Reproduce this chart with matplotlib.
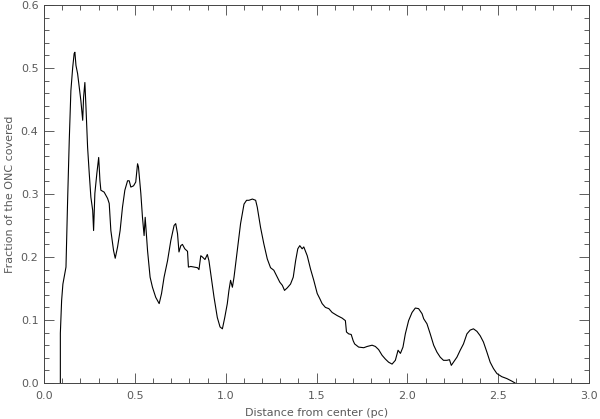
import matplotlib
matplotlib.use("Agg")
import matplotlib.pyplot as plt
from matplotlib.ticker import MultipleLocator, FormatStrFormatter

distance_pc = [
    0.090, 0.090, 0.097, 0.104, 0.115, 0.121, 0.130, 0.139, 0.148, 0.158,
    0.166, 0.170, 0.176, 0.185, 0.194, 0.203, 0.213, 0.218, 0.225, 0.231,
    0.240, 0.249, 0.258, 0.268, 0.273, 0.280, 0.291, 0.301, 0.308, 0.313,
    0.331, 0.350, 0.359, 0.368, 0.383, 0.392, 0.405, 0.419, 0.432, 0.445,
    0.460, 0.469, 0.478, 0.493, 0.505, 0.515, 0.520, 0.533, 0.542, 0.551,
    0.557, 0.566, 0.570, 0.584, 0.597, 0.615, 0.634, 0.647, 0.661, 0.680,
    0.698, 0.716, 0.725, 0.735, 0.743, 0.753, 0.762, 0.775, 0.790, 0.795,
    0.808, 0.826, 0.845, 0.853, 0.863, 0.872, 0.886, 0.899, 0.908, 0.918,
    0.936, 0.954, 0.969, 0.982, 0.995, 1.009, 1.018, 1.027, 1.037, 1.046,
    1.064, 1.082, 1.101, 1.115, 1.128, 1.147, 1.165, 1.174, 1.192, 1.210,
    1.229, 1.247, 1.265, 1.284, 1.298, 1.312, 1.324, 1.339, 1.357, 1.372,
    1.385, 1.397, 1.408, 1.421, 1.430, 1.449, 1.467, 1.485, 1.504, 1.518,
    1.531, 1.549, 1.568, 1.586, 1.614, 1.641, 1.659, 1.665, 1.677, 1.691,
    1.702, 1.710, 1.732, 1.760, 1.779, 1.806, 1.824, 1.842, 1.861, 1.879,
    1.897, 1.916, 1.934, 1.949, 1.962, 1.976, 1.989, 2.007, 2.026, 2.044,
    2.062, 2.081, 2.090, 2.108, 2.126, 2.145, 2.163, 2.181, 2.199, 2.218,
    2.232, 2.242, 2.254, 2.273, 2.291, 2.309, 2.328, 2.346, 2.364, 2.383,
    2.401, 2.419, 2.438, 2.456, 2.474, 2.493, 2.520, 2.548, 2.575, 2.593,
]
fraction_covered = [
    0.000, 0.079, 0.131, 0.157, 0.174, 0.184, 0.290, 0.385, 0.464, 0.501,
    0.523, 0.525, 0.504, 0.491, 0.470, 0.448, 0.417, 0.454, 0.477, 0.438,
    0.374, 0.333, 0.295, 0.274, 0.242, 0.301, 0.333, 0.358, 0.321, 0.306,
    0.303, 0.293, 0.285, 0.242, 0.210, 0.198, 0.216, 0.242, 0.279, 0.306,
    0.321, 0.321, 0.311, 0.313, 0.319, 0.348, 0.343, 0.301, 0.263, 0.234,
    0.263, 0.226, 0.210, 0.168, 0.152, 0.136, 0.126, 0.142, 0.168, 0.194,
    0.226, 0.250, 0.253, 0.237, 0.208, 0.218, 0.220, 0.213, 0.209, 0.184,
    0.185, 0.184, 0.183, 0.180, 0.202, 0.200, 0.196, 0.204, 0.194, 0.173,
    0.136, 0.104, 0.089, 0.086, 0.104, 0.126, 0.147, 0.163, 0.152, 0.168,
    0.210, 0.253, 0.284, 0.290, 0.290, 0.292, 0.290, 0.279, 0.247, 0.221,
    0.197, 0.183, 0.179, 0.168, 0.160, 0.155, 0.147, 0.151, 0.157, 0.168,
    0.194, 0.213, 0.218, 0.213, 0.216, 0.202, 0.181, 0.163, 0.142, 0.134,
    0.126, 0.120, 0.118, 0.112, 0.107, 0.103, 0.099, 0.081, 0.078, 0.077,
    0.067, 0.062, 0.057, 0.056, 0.058, 0.060, 0.058, 0.053, 0.044, 0.038,
    0.033, 0.030, 0.036, 0.052, 0.047, 0.057, 0.078, 0.099, 0.112, 0.119,
    0.118, 0.110, 0.102, 0.094, 0.078, 0.060, 0.049, 0.041, 0.036, 0.036,
    0.037, 0.028, 0.033, 0.041, 0.052, 0.062, 0.078, 0.084, 0.086, 0.082,
    0.075, 0.065, 0.049, 0.033, 0.023, 0.015, 0.010, 0.007, 0.003, 0.000,
]

x_label = "Distance from center (pc)"
y_label = "Fraction of the ONC covered"

text_color = "#5a5a5a"
plt.rcParams["font.family"] = ["DejaVu Sans"]

fig = plt.figure(figsize=(6.0, 4.19), dpi=100)
ax = fig.add_axes([44 / 600, 1 - 383 / 419, 545 / 600, 378 / 419])

ax.plot(distance_pc, fraction_covered, color="black", linewidth=0.8)

ax.set_xlim(0.0, 3.0)
ax.set_ylim(0.0, 0.6)
ax.xaxis.set_major_locator(MultipleLocator(0.5))
ax.xaxis.set_minor_locator(MultipleLocator(0.1))
ax.yaxis.set_major_locator(MultipleLocator(0.1))
ax.yaxis.set_minor_locator(MultipleLocator(0.02))
ax.xaxis.set_major_formatter(FormatStrFormatter("%.1f"))
ax.yaxis.set_major_formatter(FormatStrFormatter("%.1f"))

ax.tick_params(which="both", direction="in", top=True, right=True,
               colors="#444444", labelcolor=text_color, labelsize=8, width=0.6)
ax.tick_params(which="major", length=7)
ax.tick_params(which="minor", length=3.5)
ax.tick_params(axis="x", which="major", pad=6)
ax.tick_params(axis="y", which="major", pad=4)

for sp in ax.spines.values():
    sp.set_color("#444444")
    sp.set_linewidth(0.7)

ax.set_xlabel(x_label, fontsize=8, color=text_color, labelpad=4.5)
ax.set_ylabel(y_label, fontsize=8, color=text_color, labelpad=4)

fig.savefig("out.png", dpi=100)
